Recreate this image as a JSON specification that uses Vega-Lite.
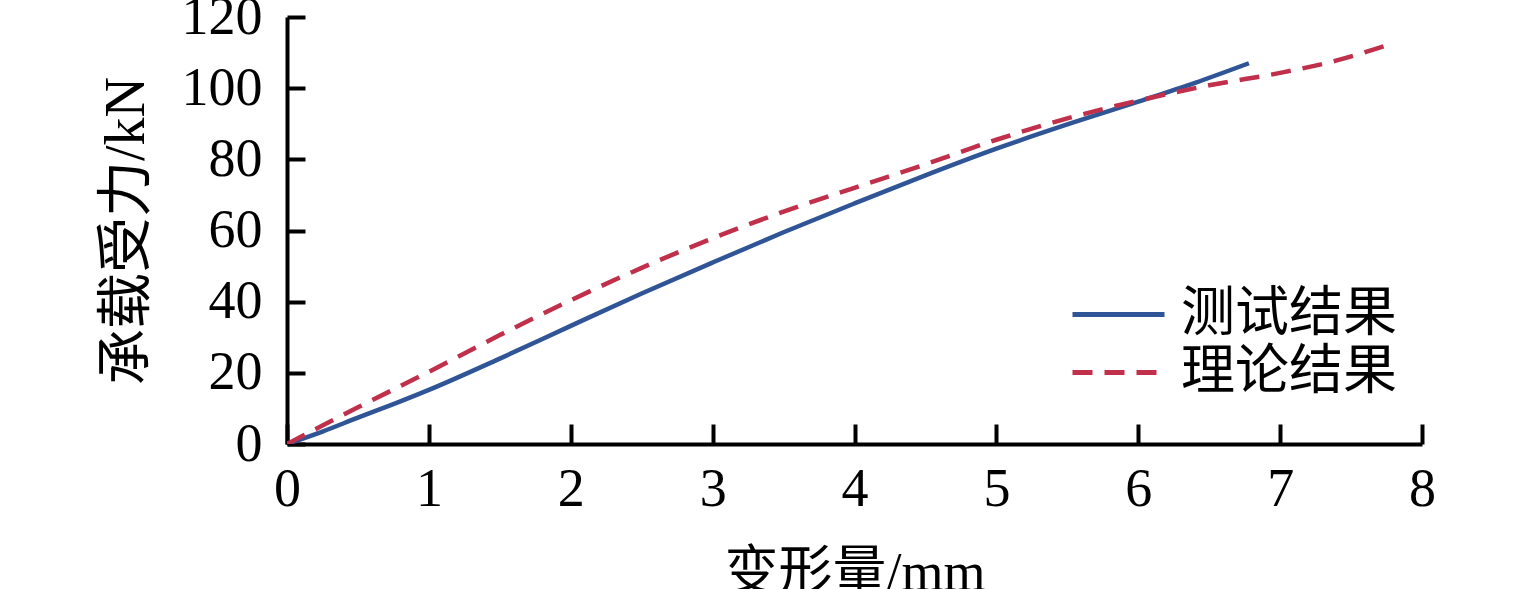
{
  "$schema": "https://vega.github.io/schema/vega-lite/v6.json",
  "autosize": {"type": "none"},
  "padding": {"left": 287, "top": 17, "right": 113, "bottom": 145},
  "width": 1135,
  "height": 427,
  "background": "white",
  "config": {
    "view": {"stroke": null},
    "font": "Liberation Serif, Noto Sans CJK SC"
  },
  "data": {
    "values": [
      {"s": "测试结果", "d": 0, "f": 0},
      {"s": "测试结果", "d": 0.25, "f": 3.5},
      {"s": "测试结果", "d": 0.5, "f": 7.4},
      {"s": "测试结果", "d": 0.75, "f": 11.2},
      {"s": "测试结果", "d": 1, "f": 15.2},
      {"s": "测试结果", "d": 1.5, "f": 24},
      {"s": "测试结果", "d": 2, "f": 33.2},
      {"s": "测试结果", "d": 2.5, "f": 42.3},
      {"s": "测试结果", "d": 3, "f": 51},
      {"s": "测试结果", "d": 3.5, "f": 59.5},
      {"s": "测试结果", "d": 4, "f": 67.6},
      {"s": "测试结果", "d": 4.5, "f": 75.5},
      {"s": "测试结果", "d": 5, "f": 83},
      {"s": "测试结果", "d": 5.5, "f": 89.8},
      {"s": "测试结果", "d": 6, "f": 96.2},
      {"s": "测试结果", "d": 6.4, "f": 101.5},
      {"s": "测试结果", "d": 6.78, "f": 107},
      {"s": "理论结果", "d": 0, "f": 0},
      {"s": "理论结果", "d": 0.25, "f": 5.2},
      {"s": "理论结果", "d": 0.5, "f": 10.3},
      {"s": "理论结果", "d": 1, "f": 20.3},
      {"s": "理论结果", "d": 1.5, "f": 30.6},
      {"s": "理论结果", "d": 2, "f": 40.4},
      {"s": "理论结果", "d": 2.5, "f": 49.5},
      {"s": "理论结果", "d": 3, "f": 57.8},
      {"s": "理论结果", "d": 3.5, "f": 65.3},
      {"s": "理论结果", "d": 4, "f": 72},
      {"s": "理论结果", "d": 4.5, "f": 78.6},
      {"s": "理论结果", "d": 5, "f": 85.5},
      {"s": "理论结果", "d": 5.5, "f": 91.5},
      {"s": "理论结果", "d": 6, "f": 96.5},
      {"s": "理论结果", "d": 6.5, "f": 100.8},
      {"s": "理论结果", "d": 7, "f": 104.3},
      {"s": "理论结果", "d": 7.4, "f": 107.8},
      {"s": "理论结果", "d": 7.75, "f": 112}
    ]
  },
  "encoding": {
    "x": {
      "field": "d", "type": "quantitative",
      "scale": {"domain": [0, 8], "nice": false},
      "axis": {
        "title": "变形量/mm", "values": [0,1,2,3,4,5,6,7,8], "grid": false,
        "domainColor": "black", "domainWidth": 4, "tickColor": "black", "tickWidth": 4,
        "tickSize": -20, "labelPadding": 38, "labelFontSize": 54, "labelColor": "black",
        "labelFont": "Liberation Serif", "labelBound": false, "labelFlush": false,
        "titleFontSize": 54, "titleFontWeight": "normal", "titleColor": "black", "titlePadding": 30
      }
    },
    "y": {
      "field": "f", "type": "quantitative",
      "scale": {"domain": [0, 120], "nice": false},
      "axis": {
        "title": "承载受力/kN", "values": [0,20,40,60,80,100,120], "grid": false,
        "domainColor": "black", "domainWidth": 4, "tickColor": "black", "tickWidth": 4,
        "tickSize": -18, "labelPadding": 43, "labelFontSize": 54, "labelColor": "black",
        "labelFont": "Liberation Serif", "labelBound": false, "labelFlush": false,
        "titleFontSize": 56, "titleFontWeight": "normal", "titleColor": "black", "titlePadding": 26
      }
    }
  },
  "layer": [
    {
      "transform": [{"filter": "datum.s === '测试结果'"}],
      "mark": {"type": "line", "strokeWidth": 4.5, "interpolate": "monotone", "clip": true},
      "encoding": {
        "color": {
          "field": "s", "type": "nominal",
          "scale": {"domain": ["测试结果"], "range": ["#2F5597"]},
          "legend": {
            "title": null, "orient": "none", "legendX": 783, "legendY": 249,
            "symbolType": "M-1,0L1,0", "symbolSize": 8464, "symbolStrokeWidth": 5,
            "labelFontSize": 54, "labelColor": "black", "labelOffset": 14, "labelLimit": 400
          }
        }
      }
    },
    {
      "transform": [{"filter": "datum.s === '理论结果'"}],
      "mark": {"type": "line", "strokeWidth": 4.5, "interpolate": "monotone", "clip": true, "strokeDash": [20, 12]},
      "encoding": {
        "color": {
          "field": "s", "type": "nominal",
          "scale": {"domain": ["理论结果"], "range": ["#C0304A"]},
          "legend": {
            "title": null, "orient": "none", "legendX": 783, "legendY": 307,
            "symbolType": "M-1,0L1,0", "symbolSize": 8464, "symbolStrokeWidth": 5,
            "symbolDash": [20, 12],
            "labelFontSize": 54, "labelColor": "black", "labelOffset": 14, "labelLimit": 400
          }
        }
      }
    }
  ],
  "resolve": {"scale": {"color": "independent"}, "legend": {"color": "independent"}}
}
